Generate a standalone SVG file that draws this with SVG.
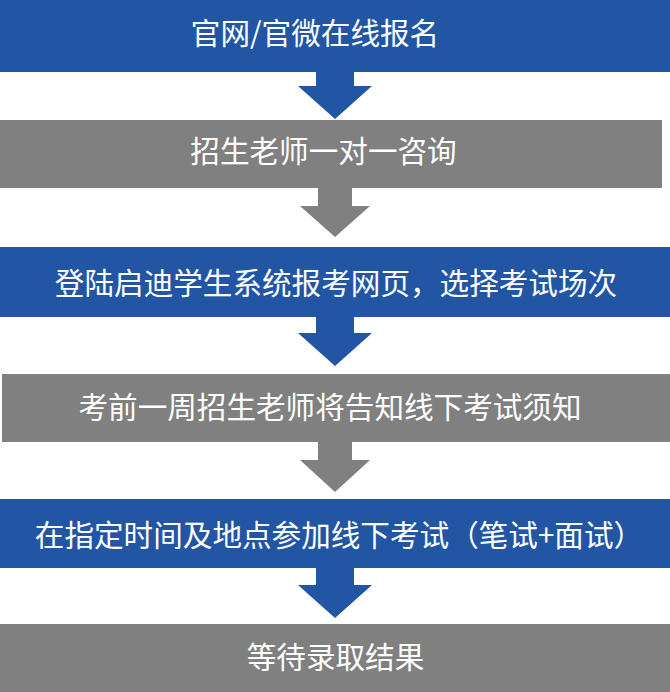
<svg xmlns="http://www.w3.org/2000/svg" width="670" height="692" viewBox="0 0 670 692">
<style>
.blue{fill:#2256a5}
.gray{fill:#808080}
.t{fill:#ffffff;font-family:"Noto Sans CJK SC","Noto Sans",sans-serif;font-size:29.6px;text-anchor:middle}
</style>
<rect width="670" height="692" fill="#ffffff"/>
<g id="connectors">
<polygon class="blue" points="316,70 354,70 354,86 372,86 335,119 298,86 316,86"/>
<polygon class="gray" points="318,186 352,186 352,206 370,206 335,237 300,206 318,206"/>
<polygon class="blue" points="316,315 354,315 354,333 372,333 335,366 298,333 316,333"/>
<polygon class="gray" points="318,440 352,440 352,460 370,460 335,492 300,460 318,460"/>
<polygon class="blue" points="316,566 354,566 354,585 372,585 335,618 298,585 316,585"/>
</g>
<g id="n1"><rect class="blue" x="0" y="0" width="670" height="72"/><text class="t" x="315" y="43.5">官网/官微在线报名</text></g>
<g id="n2"><rect class="gray" x="0" y="120" width="662" height="68"/><text class="t" x="323.5" y="161.7">招生老师一对一咨询</text></g>
<g id="n3"><rect class="blue" x="0" y="247" width="670" height="70"/><text class="t" x="336" y="293.7">登陆启迪学生系统报考网页，选择考试场次</text></g>
<g id="n4"><rect class="gray" x="2" y="374" width="668" height="68"/><text class="t" x="330" y="418">考前一周招生老师将告知线下考试须知</text></g>
<g id="n5"><rect class="blue" x="0" y="499" width="670" height="69"/><text class="t" x="339" y="545.7">在指定时间及地点参加线下考试（笔试+面试）</text></g>
<g id="n6"><rect class="gray" x="0" y="624" width="670" height="68"/><text class="t" x="335.5" y="668">等待录取结果</text></g>
</svg>
